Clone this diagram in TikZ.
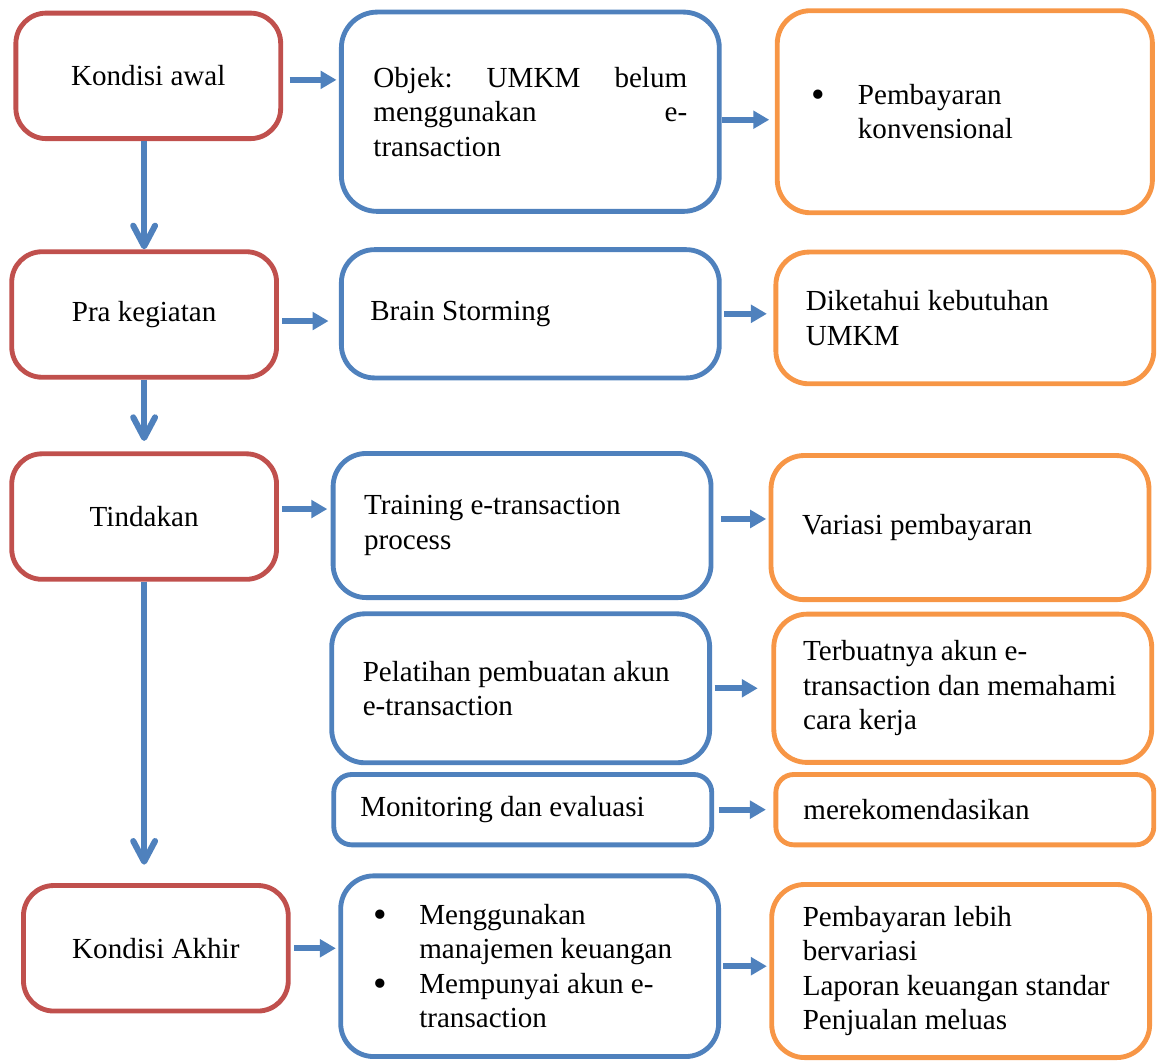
\documentclass[tikz,border=0pt]{standalone}
\usepackage{fontspec}
\setmainfont{Liberation Serif}
\usetikzlibrary{arrows.meta}
\definecolor{merah}{HTML}{C0504D}
\definecolor{biru}{HTML}{4F81BD}
\definecolor{oranye}{HTML}{F79646}
\newcommand{\butir}{\makebox[0.67cm][l]{\raisebox{-1.4pt}{\fontsize{16pt}{16pt}\selectfont\textbullet}}}
\begin{document}
\begin{tikzpicture}[
  every node/.style={font=\fontsize{12pt}{14.2pt}\selectfont},
  lbox/.style={draw=merah, line width=2pt, rounded corners=0.44cm, minimum width=3.84cm, minimum height=1.82cm, inner sep=0pt},
  cbox/.style={draw=biru, line width=2pt, rounded corners=0.48cm, minimum width=5.48cm, align=flush left, text width=4.58cm, inner sep=0pt},
  obox/.style={draw=oranye, line width=2pt, rounded corners=0.48cm, minimum width=5.48cm, align=flush left, text width=4.58cm, inner sep=0pt},
  ha/.style={draw=biru, line width=2.5pt, -{Triangle[length=6.6pt,width=7.2pt]}},
  va/.style={draw=biru, line width=2.5pt, -{Straight Barb[length=8.5pt,width=9pt,line cap=round,line join=round]}}
]
\useasboundingbox (0,0) rectangle (16.82,-15.38);

\node[lbox] (kawal) at (2.15,-1.10) {Kondisi awal};
\node[lbox] (pra) at (2.09,-4.56) {Pra kegiatan};
\node[lbox] (tindakan) at (2.09,-7.49) {Tindakan};
\node[lbox] (akhir) at (2.26,-13.75) {Kondisi Akhir};

\node[cbox, minimum height=2.89cm, rounded corners=0.52cm, text width=4.55cm] (objek) at (7.69,-1.62) {\makebox[4.55cm][l]{Objek:\hfill UMKM\hfill belum}\\\makebox[4.55cm][l]{menggunakan\hfill e-}\\transaction};
\node[cbox, minimum height=1.86cm, text width=4.64cm] (brain) at (7.69,-4.55) {Brain Storming};
\node[cbox, minimum height=2.09cm] (training) at (7.57,-7.62) {Training e-transaction\\process};
\node[cbox, minimum height=2.16cm] (pelatihan) at (7.55,-9.98) {Pelatihan pembuatan akun\\e-transaction};
\node[cbox, minimum height=1.02cm, rounded corners=0.26cm, text width=4.71cm] (monitor) at (7.58,-11.74) {Monitoring dan evaluasi};
\node[cbox, minimum height=2.62cm, text width=4.54cm] (guna) at (7.68,-14.01) {\butir Menggunakan\\\hspace*{0.67cm}manajemen keuangan\\\butir Mempunyai akun e-\\\hspace*{0.67cm}transaction};

\node[obox, minimum width=5.44cm, minimum height=2.93cm, text width=4.44cm] (konv) at (13.99,-1.62) {\butir Pembayaran\\\hspace*{0.67cm}konvensional};
\node[obox, minimum height=1.91cm, text width=4.61cm] (tahu) at (13.99,-4.61) {Diketahui kebutuhan\\UMKM};
\node[obox, minimum height=2.09cm] (variasi) at (13.92,-7.65) {Variasi pembayaran};
\node[obox, minimum height=2.15cm, text width=4.63cm] (akun) at (13.96,-9.98) {Terbuatnya akun e-\\transaction dan memahami\\cara kerja};
\node[obox, minimum height=1.02cm, rounded corners=0.26cm, text width=4.68cm] (rekom) at (13.99,-11.74) {merekomendasikan};
\node[obox, minimum height=2.51cm] (hasil) at (13.93,-14.08) {Pembayaran lebih\\bervariasi\\Laporan keuangan standar\\Penjualan meluas};

\draw[va] (kawal.south -| pra.north) -- (pra.north);
\draw[va, shorten >=4.3pt] (pra.south) -- (tindakan.north);
\draw[va, shorten >=7.6pt] (tindakan.south) -- (tindakan.south |- akhir.north);

\draw[ha, shorten <=2.7pt, shorten >=1pt] ([yshift=-1.65pt]kawal.east) -- ([yshift=-1.65pt]kawal.east -| objek.west);
\draw[ha, shorten >=2.3pt] ([yshift=-3.3pt]objek.east) -- ([yshift=-3.3pt]objek.east -| konv.west);
\draw[ha, shorten <=1.4pt, shorten >=4.3pt] ([yshift=-2.7pt]pra.east) -- ([yshift=-2.7pt]pra.east -| brain.west);
\draw[ha, shorten <=1pt, shorten >=2.7pt] (brain.east) -- (brain.east -| tahu.west);
\draw[ha, shorten <=1.4pt, shorten >=1.4pt] ([yshift=3.1pt]tindakan.east) -- ([yshift=3.1pt]tindakan.east -| training.west);
\draw[ha, shorten <=3.1pt, shorten >=1pt] ([yshift=2.7pt]training.east) -- ([yshift=2.7pt]training.east -| variasi.west);
\draw[ha, shorten <=1pt, shorten >=5.6pt] (pelatihan.east) -- (pelatihan.east -| akun.west);
\draw[ha, shorten <=1.9pt, shorten >=3.1pt] (monitor.east) -- (monitor.east -| rekom.west);
\draw[ha, shorten <=1.4pt, shorten >=1pt] (akhir.east) -- (akhir.east -| guna.west);
\draw[ha, shorten <=1pt, shorten >=1pt] (guna.east) -- (guna.east -| hasil.west);
\end{tikzpicture}
\end{document}
